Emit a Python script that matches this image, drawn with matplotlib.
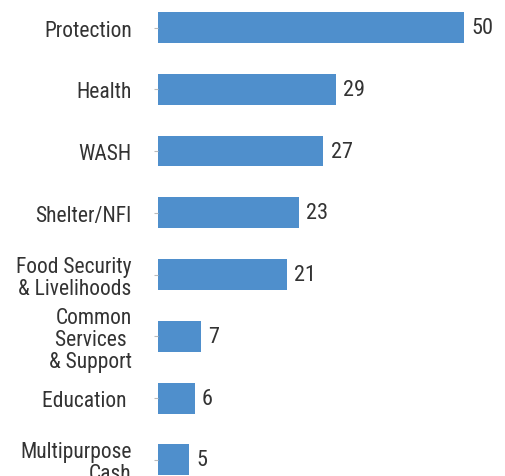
import matplotlib.pyplot as plt

# sectors and counts
sectors = ["Protection", "Health", "WASH", "Shelter/NFI",
           "Food Security\n& Livelihoods", "Common\nServices \n& Support",
           "Education ", "Multipurpose\nCash"]
counts = [50, 29, 27, 23, 21, 7, 6, 5]

bar_color = "#4f8fcc"
text_color = "#333333"
fonts = ["Roboto Condensed", "Liberation Sans Narrow", "Roboto", "DejaVu Sans"]

fig = plt.figure(figsize=(5.05, 4.77), dpi=100)
ax = fig.add_axes([0.313, -0.031, 0.687, 1.036])

pos = list(range(len(sectors)))
ax.barh(pos, counts, height=0.5, color=bar_color)
ax.set_ylim(len(sectors) - 0.5, -0.5)
ax.set_xlim(0, 56.7)

for p, c in zip(pos, counts):
    ax.text(c + 1.2, p, str(c), va="center", ha="left", fontsize=16,
            color=text_color, family=fonts)

ax.set_yticks(pos)
ax.set_yticklabels(sectors, fontsize=15.5, color=text_color, family=fonts,
                   linespacing=1.05)
ax.tick_params(axis="y", length=3, color="#bbbbbb", pad=16)
ax.set_xticks([])
for s in ax.spines.values():
    s.set_visible(False)

plt.savefig("out.png", dpi=100)
